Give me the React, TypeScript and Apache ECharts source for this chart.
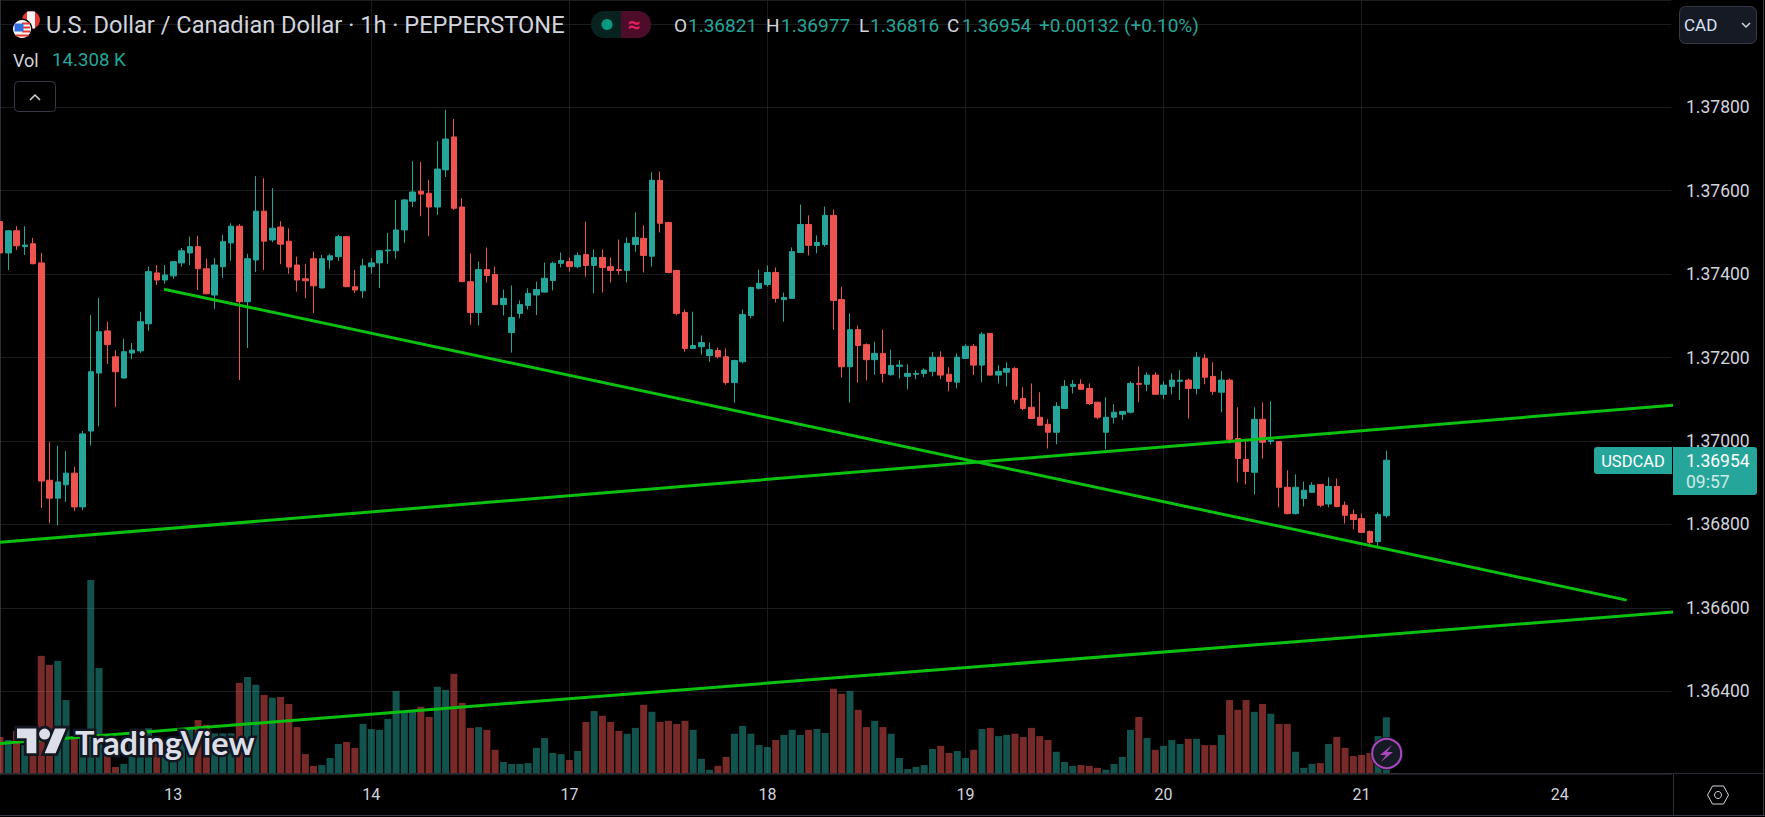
import React, { useEffect, useRef } from "react";
import * as echarts from "echarts";

// Prices are stored in 1e-5 units (137526 = 1.37526), one hourly bar per entry.
const barOpen = [137526,137451,137504,137466,137473,137427,136906,136863,136895,136923,136842,137024,137163,137264,137202,137151,137211,137216,137281,137403,137386,137396,137427,137451,137466,137413,137350,137418,137475,137515,137334,137434,137551,137482,137513,137479,137422,137389,137437,137367,137434,137442,137490,137370,137360,137418,137427,137456,137456,137506,137575,137599,137594,137561,137650,137729,137561,137382,137308,137411,137399,137327,137260,137306,137325,137350,137357,137385,137426,137430,137418,137447,137421,137440,137418,137411,137409,137471,137486,137443,137625,137524,137409,137308,137222,137226,137205,137217,137202,137140,137190,137301,137366,137375,137404,137339,137342,137452,137519,137469,137471,137541,137339,137178,137267,137231,137195,137210,137159,137179,137155,137160,137162,137167,137201,137160,137141,137198,137227,137182,137258,137158,137165,137174,137102,137081,137057,137040,137021,137078,137131,137136,137126,137093,137021,137057,137064,137069,137138,137136,137158,137112,137131,137143,137146,137126,137198,137155,137117,137146,137006,136956,136925,137052,136999,136999,136889,136826,136862,136877,136896,136849,136891,136846,136824,136814,136783,136759,136821];
const barClose = [137451,137504,137468,137470,137425,136904,136863,136902,136923,136842,137017,137166,137262,137231,137166,137214,137218,137286,137406,137386,137398,137430,137456,137466,137413,137353,137422,137478,137515,137334,137437,137551,137479,137510,137472,137417,137386,137384,137372,137437,137444,137490,137370,137362,137420,137427,137456,137458,137506,137578,137597,137592,137561,137652,137724,137558,137382,137308,137411,137397,137327,137342,137296,137327,137354,137363,137390,137426,137433,137418,137445,137421,137440,137416,137409,137409,137474,137488,137445,137625,137522,137404,137306,137222,137229,137236,137219,137202,137140,137193,137303,137368,137378,137404,137342,137344,137454,137519,137469,137476,137541,137337,137178,137267,137229,137195,137210,137162,137181,137182,137162,137162,137170,137201,137158,137143,137201,137227,137182,137256,137158,137167,137174,137100,137078,137054,137038,137021,137083,137131,137136,137124,137090,137057,137057,137069,137071,137138,137136,137158,137112,137134,137146,137146,137126,137201,137153,137119,137146,137004,136958,136927,137052,136997,137002,136889,136826,136889,136882,136894,136846,136891,136843,136822,136812,136781,136757,136824,136954];
const barLow = [137445,137410,137458,137446,137424,136839,136803,136798,136854,136832,136834,136989,137035,137185,137082,137150,137196,137211,137264,137374,137377,137389,137418,137422,137362,137352,137317,137391,137432,137146,137223,137405,137410,137477,137424,137401,137358,137343,137307,137366,137413,137432,137369,137355,137343,137401,137367,137425,137437,137475,137561,137539,137491,137542,137633,137554,137381,137279,137277,137380,137326,137301,137212,137294,137315,137302,137356,137361,137416,137406,137414,137394,137354,137356,137380,137399,137380,137454,137404,137418,137500,137402,137301,137214,137221,137207,137190,137198,137135,137092,137186,137294,137363,137370,137332,137286,137341,137451,137445,137450,137466,137267,137152,137092,137140,137145,137159,137140,137157,137150,137124,137148,137153,137155,137148,137119,137126,137197,137158,137141,137157,137138,137131,137090,137074,137053,137037,136982,136992,137077,137114,137123,137086,137052,136980,137042,137050,137066,137093,137119,137111,137100,137112,137098,137054,137112,137136,137110,137069,136994,136901,136896,136872,136958,136992,136841,136824,136824,136843,136876,136841,136841,136841,136802,136788,136780,136747,136747,136816];
const barHigh = [137550,137506,137515,137515,137487,137451,136998,136988,136976,136938,137024,137302,137343,137286,137218,137245,137235,137310,137418,137422,137422,137431,137463,137490,137492,137437,137439,137494,137522,137520,137449,137635,137630,137606,137527,137510,137442,137425,137454,137446,137449,137494,137492,137410,137437,137439,137457,137499,137578,137580,137671,137669,137626,137719,137794,137772,137582,137450,137430,137464,137418,137363,137373,137337,137366,137382,137428,137430,137452,137440,137452,137526,137459,137459,137440,137483,137488,137548,137517,137644,137646,137525,137410,137315,137310,137253,137236,137224,137222,137195,137315,137370,137411,137421,137416,137356,137464,137567,137541,137493,137562,137555,137370,137306,137277,137234,137238,137267,137219,137194,137184,137170,137174,137213,137215,137177,137210,137232,137232,137261,137259,137182,137189,137177,137129,137138,137117,137052,137093,137146,137146,137148,137138,137094,137105,137088,137072,137143,137179,137165,137165,137143,137162,137170,137150,137213,137208,137189,137167,137150,137081,137002,137081,137093,137095,137000,136930,136920,136903,136901,136897,136913,136910,136855,136836,136826,136786,136829,136977];
// Volume in thousands, per bar.
const volumes = [9.3,8.5,10.8,7.2,9.8,30.0,27.7,28.7,18.7,9.4,10.2,49.4,26.9,5.1,1.6,2.4,9.4,9.8,11.5,8.5,7.7,9.4,9.4,11.1,13.6,12.4,10.2,10.2,10.2,23.1,24.6,22.6,20.0,19.3,19.5,17.7,11.8,4.9,1.9,2.1,3.9,7.5,8.0,6.5,12.6,11.3,11.1,13.9,21.0,15.7,15.7,17.0,14.4,22.1,21.3,25.4,18.0,11.6,11.8,11.1,6.0,2.9,2.4,2.4,2.6,6.5,9.0,5.2,4.9,3.4,5.7,13.1,15.9,14.7,13.1,10.8,10.1,11.6,17.5,15.7,13.1,13.4,12.6,13.4,11.1,3.7,0.9,1.9,4.2,10.1,12.1,10.1,7.2,6.7,8.5,9.8,11.1,9.8,11.1,11.3,10.3,21.6,20.3,21.0,16.2,11.8,13.4,11.8,10.1,3.9,1.1,1.6,2.1,6.2,7.0,5.2,5.7,3.9,6.0,11.3,11.6,9.5,9.8,10.1,9.3,11.6,9.5,8.5,5.5,2.9,1.9,2.1,1.9,1.4,0.9,2.4,4.2,11.1,14.4,9.0,6.0,7.0,8.5,7.5,8.8,8.8,7.2,7.2,9.8,18.7,16.2,18.7,15.7,17.7,15.2,12.6,12.6,5.5,1.4,2.4,2.6,7.5,9.3,6.5,4.4,4.7,5.2,9.5,14.308];
const dayIndexes = [21, 45, 69, 93, 117, 141, 165, 189];
const dayLabels = ["13", "14", "17", "18", "19", "20", "21", "24"];
const priceTicks = { min: 1.362, max: 1.380573, step: 0.002 };
const slotCount = 203;
// Trend lines: [bar index, price]
const trendFalling = [[19.87, 1.37364], [197.13, 1.366185]];
const trendMiddle = [[0, 1.36757], [202.74, 1.37086]];
const trendLower = [[0, 1.36275], [202.74, 1.3659]];

const UP = "#26a69a";
const DOWN = "#ef5350";
const GREEN = "#0bc10f";
const PANEL_LINE = "#2a2e39";
const TEXT = "#d1d4dc";
const FONT = "Roboto, sans-serif";

echarts.graphic.registerShape(
  "tvLogoMark",
  echarts.graphic.extendPath(
    "M14 22H7V11H0V4h14v18zM28 22h-8l7.5-18h8L28 22zM24 8a4 4 0 1 1-8 0a4 4 0 1 1 8 0z",
    {}
  )
);

const txt = (text: string, x: number, y: number, fill: string, fontSize: number, extra: any = {}) => ({
  type: "text",
  z: 100,
  style: { text, x, y, fill, fontSize, fontFamily: FONT, verticalAlign: "middle", ...extra },
});

const hline = (x1: number, x2: number, y: number, stroke: string) => ({
  type: "line", z: 95, shape: { x1, y1: y, x2, y2: y }, style: { stroke, lineWidth: 1 },
});
const vline = (x: number, y1: number, y2: number, stroke: string) => ({
  type: "line", z: 95, shape: { x1: x, y1, x2: x, y2 }, style: { stroke, lineWidth: 1 },
});

function buildGraphics() {
  const els: any[] = [];
  // panel frames
  els.push(hline(0, 1763, 773.5, PANEL_LINE));
  els.push(hline(0, 1765, 815.5, "#363a45"));
  els.push(vline(1673.5, 773, 815, PANEL_LINE));
  els.push(vline(1763.5, 0, 816, "#363a45"));

  // flags
  els.push({ type: "circle", z: 100, shape: { cx: 31, cy: 20, r: 9 }, style: { fill: "#e53935" } });
  els.push({ type: "rect", z: 100, shape: { x: 27, y: 11.5, width: 8, height: 17 }, style: { fill: "#f5f5f5" } });
  els.push({ type: "circle", z: 100, shape: { cx: 22, cy: 29, r: 10.5 }, style: { fill: "#000" } });
  els.push({ type: "circle", z: 101, shape: { cx: 22, cy: 29, r: 9 }, style: { fill: "#f5f5f5" } });
  [22.5, 26.5, 30.5, 34.5].forEach((y, k) =>
    els.push({ type: "rect", z: 101, shape: { x: k === 3 ? 15.5 : 22, y, width: k === 3 ? 13 : 8, height: 2 }, style: { fill: "#e53935" } })
  );
  els.push({ type: "rect", z: 101, shape: { x: 14.5, y: 23.5, width: 9, height: 8 }, style: { fill: "#2f6fe0" } });

  // header
  els.push(txt("U.S. Dollar / Canadian Dollar · 1h · PEPPERSTONE", 46, 25, TEXT, 23.6));
  els.push(txt("Vol", 13, 60, TEXT, 18));
  els.push(txt("14.308 K", 52, 60, UP, 18.7));
  els.push({ type: "rect", z: 100, shape: { x: 14.5, y: 81.5, width: 41, height: 30, r: 4 }, style: { fill: "#000", stroke: "#363a45", lineWidth: 1 } });
  els.push({ type: "polyline", z: 100, shape: { points: [[30, 100], [35, 95], [40, 100]] }, style: { stroke: TEXT, lineWidth: 1.5, fill: "none" } });

  // market status
  els.push({ type: "rect", z: 100, shape: { x: 591, y: 11, width: 30, height: 27, r: [13, 0, 0, 13] }, style: { fill: "#06231f" } });
  els.push({ type: "rect", z: 100, shape: { x: 621, y: 11, width: 30, height: 27, r: [0, 13, 13, 0] }, style: { fill: "#4d0d29" } });
  els.push({ type: "circle", z: 101, shape: { cx: 607, cy: 24.5, r: 5.5 }, style: { fill: "#089981" } });
  els.push(txt("≈", 634, 24, "#e91e63", 22, { textAlign: "center", fontWeight: "bold" }));

  // OHLC
  const ohlc: [string, number, string][] = [
    ["O", 674, TEXT], ["1.36821", 688, UP], ["H", 766, TEXT], ["1.36977", 781, UP],
    ["L", 859, TEXT], ["1.36816", 870, UP], ["C", 947, TEXT], ["1.36954", 962, UP],
    ["+0.00132", 1039, UP], ["(+0.10%)", 1124, UP],
  ];
  ohlc.forEach(([t, x, c]) => els.push(txt(t, x, 25, c, 19)));

  // currency button
  els.push({ type: "rect", z: 100, shape: { x: 1679.5, y: 6.5, width: 77, height: 37, r: 6 }, style: { fill: "#161a25", stroke: "#363a45", lineWidth: 1 } });
  els.push(txt("CAD", 1684, 25, "#d6e4f5", 17));
  els.push({ type: "polyline", z: 101, shape: { points: [[1742, 23], [1746, 27], [1750, 23]] }, style: { stroke: TEXT, lineWidth: 1.5, fill: "none" } });

  // last price tags
  els.push({ type: "rect", z: 100, shape: { x: 1594, y: 447, width: 78, height: 27, r: [3, 0, 0, 3] }, style: { fill: UP } });
  els.push(txt("USDCAD", 1633, 461, "#ffffff", 16.5, { textAlign: "center" }));
  els.push({ type: "rect", z: 100, shape: { x: 1673, y: 447, width: 84, height: 48, r: [0, 3, 3, 0] }, style: { fill: UP } });
  els.push(txt("1.36954", 1686, 461, "#ffffff", 17.5));
  els.push(txt("09:57", 1686, 482, "#cdeae6", 17.5));

  // settings hexagon
  els.push({ type: "polygon", z: 100, shape: { points: [[1707.5, 795], [1712.5, 786], [1723.5, 786], [1728.5, 795], [1723.5, 804], [1712.5, 804]] }, style: { fill: "none", stroke: TEXT, lineWidth: 1 } });
  els.push({ type: "circle", z: 100, shape: { cx: 1718, cy: 795, r: 3.5 }, style: { fill: "none", stroke: TEXT, lineWidth: 1 } });

  // TradingView watermark
  const markScale = 1.38;
  els.push({ type: "tvLogoMark", z: 110, x: 17, y: 723, scaleX: markScale, scaleY: markScale, style: { fill: "#131722", stroke: "#131722", lineWidth: 4 } });
  els.push({ type: "tvLogoMark", z: 111, x: 17, y: 723, scaleX: markScale, scaleY: markScale, style: { fill: "#dcdfe7" } });
  els.push({ type: "text", z: 110, style: { text: "TradingView", x: 75, y: 742, fill: "#dcdfe7", stroke: "#131722", lineWidth: 5, fontSize: 32.5, fontWeight: 700, fontFamily: "Lato, " + FONT, verticalAlign: "middle" } });

  // lightning badge
  els.push({ type: "circle", z: 110, shape: { cx: 1386.7, cy: 753.5, r: 16 }, style: { fill: "#161a25", stroke: "#161a25", lineWidth: 1 } });
  els.push({ type: "circle", z: 111, shape: { cx: 1386.7, cy: 753.5, r: 14.5 }, style: { fill: "#161a25", stroke: "#ab47bc", lineWidth: 2 } });
  els.push({ type: "polygon", z: 112, shape: { points: [[1392, 745], [1380, 755], [1386, 755], [1381, 762], [1393, 752], [1387, 752]] }, style: { fill: "#ab47bc" } });

  return els;
}

export default function App() {
  const ref = useRef<HTMLDivElement>(null);

  useEffect(() => {
    document.body.style.margin = "0";
    document.body.style.background = "#000";
    const chart = echarts.init(ref.current!, undefined, { renderer: "svg" });
    const categories = Array.from({ length: slotCount }, (_, i) => String(i));
    const candleData = barOpen.map((o, i) => [o / 1e5, barClose[i] / 1e5, barLow[i] / 1e5, barHigh[i] / 1e5]);
    const volumeData = volumes.map((v, i) => ({
      value: v,
      itemStyle: { color: barClose[i] >= barOpen[i] ? "rgba(38,166,154,0.5)" : "rgba(239,83,80,0.5)" },
    }));
    const band = 8.252;
    const left = -band / 2;
    const width = slotCount * band;
    const isDay = (idx: number) => dayIndexes.includes(idx);
    const trend = (data: number[][]) => ({
      type: "line", xAxisIndex: 1, yAxisIndex: 0, data, clip: false, showSymbol: false, symbol: "none", z: 5,
      lineStyle: { color: GREEN, width: 3 }, silent: true,
    });

    chart.setOption({
      animation: false,
      backgroundColor: "#000000",
      grid: [
        { left, width, top: 0, height: 774.7, outerBoundsMode: "none" },
        { left, width, top: 0, height: 773.3, outerBoundsMode: "none" },
      ],
      xAxis: [
        {
          type: "category", gridIndex: 0, data: categories,
          axisLine: { show: false }, axisTick: { show: false },
          axisLabel: {
            interval: (i: number) => isDay(i), margin: 12, color: TEXT, fontSize: 16, fontFamily: FONT,
            formatter: (_: string, i: number) => dayLabels[dayIndexes.indexOf(i)] ?? "",
          },
          splitLine: { show: true, alignWithLabel: true, showMinLine: false, showMaxLine: false, interval: (i: number) => isDay(i), lineStyle: { color: "#1a1c1e", width: 1 } },
        },
        { type: "value", gridIndex: 0, min: -0.5, max: slotCount - 0.5, show: false },
        { type: "category", gridIndex: 1, data: categories, show: false },
      ],
      yAxis: [
        {
          type: "value", gridIndex: 0, position: "right", offset: 2,
          min: priceTicks.min, max: priceTicks.max, interval: priceTicks.step,
          axisLine: { show: true, lineStyle: { color: PANEL_LINE } }, axisTick: { show: false },
          axisLabel: {
            margin: 13, color: TEXT, fontSize: 17.5, fontFamily: FONT, showMinLabel: false, showMaxLabel: false,
            formatter: (v: number) => (v > 1.3795 ? "" : v.toFixed(5)),
          },
          splitLine: { show: true, lineStyle: { color: "#1a1c1e", width: 1 } },
        },
        { type: "value", gridIndex: 1, min: 0, max: 197.5, show: false },
      ],
      series: [
        {
          type: "bar", xAxisIndex: 2, yAxisIndex: 1, data: volumeData, barWidth: 7, z: 1, silent: true,
        },
        {
          type: "candlestick", xAxisIndex: 0, yAxisIndex: 0, data: candleData, barWidth: 6, z: 3, silent: true,
          itemStyle: { color: UP, color0: DOWN, borderColor: UP, borderColor0: DOWN, borderWidth: 1 },
        },
        trend(trendMiddle),
        trend(trendFalling),
        trend(trendLower),
      ],
      graphic: { elements: buildGraphics() },
    });
    return () => chart.dispose();
  }, []);

  return <div ref={ref} style={{ position: "absolute", left: 0, top: 0, width: 1765, height: 817, background: "#000" }} />;
}
